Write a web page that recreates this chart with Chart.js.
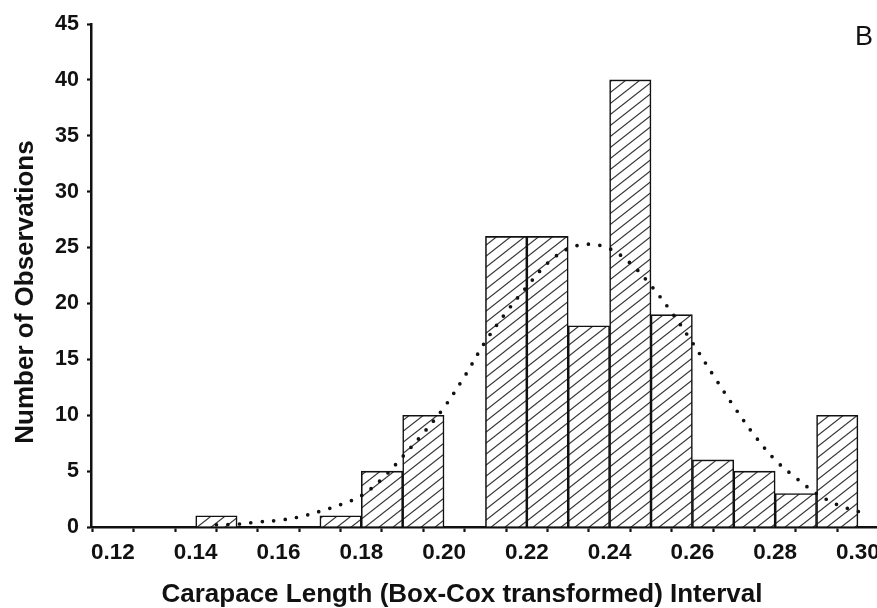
<!DOCTYPE html>
<html>
<head>
<meta charset="utf-8">
<script src="https://cdn.jsdelivr.net/npm/chart.js@4.4.1/dist/chart.umd.min.js"></script>
<style>
  html, body { margin: 0; padding: 0; background: #ffffff; }
  #wrap { width: 877px; height: 608px; position: relative; }
</style>
</head>
<body>
<div id="wrap"><canvas id="c"></canvas></div>
<script>
// ---- data ----
const binCenters = [0.145, 0.155, 0.165, 0.175, 0.185, 0.195, 0.205, 0.215, 0.225, 0.235, 0.245, 0.255, 0.265, 0.275, 0.285, 0.295];
const counts     = [1, 0, 0, 1, 5, 10, 0, 26, 26, 18, 40, 19, 6, 5, 3, 10];

const curveX = [0.145, 0.15, 0.155, 0.16, 0.165, 0.17, 0.175, 0.18, 0.185, 0.19, 0.195, 0.20, 0.205, 0.21, 0.215, 0.22, 0.225, 0.23, 0.235, 0.24, 0.245, 0.25, 0.255, 0.26, 0.265, 0.27, 0.275, 0.28, 0.285, 0.29, 0.295, 0.30, 0.302];
const curveY = [0.2, 0.25, 0.45, 0.6, 0.9, 1.4, 2.0, 2.8, 4.3, 6.3, 8.4, 10.7, 13.5, 16.6, 19.2, 21.5, 23.6, 24.9, 25.3, 24.9, 23.6, 21.6, 19.2, 16.5, 13.6, 10.8, 8.2, 6.0, 4.4, 3.0, 2.0, 1.4, 1.2];

const xTickValues = [0.12, 0.13, 0.14, 0.15, 0.16, 0.17, 0.18, 0.19, 0.20, 0.21, 0.22, 0.23, 0.24, 0.25, 0.26, 0.27, 0.28, 0.29, 0.30];
const xLabelled   = [0.12, 0.14, 0.16, 0.18, 0.20, 0.22, 0.24, 0.26, 0.28, 0.30];

const xTitle = 'Carapace Length (Box-Cox transformed) Interval';
const yTitle = 'Number of Observations';
const panelLabel = 'B';

// ---- hatch pattern ----
function makeHatch() {
  const w = 14, h = 11;
  const cv = document.createElement('canvas');
  cv.width = w; cv.height = h;
  const g = cv.getContext('2d');
  g.fillStyle = '#ffffff';
  g.fillRect(0, 0, w, h);
  g.strokeStyle = '#333333';
  g.lineWidth = 1.15;
  for (const c of [-h, 0, h]) {
    g.beginPath();
    g.moveTo(-2, h + c + 2 * h / w);
    g.lineTo(w + 2, c - 2 * h / w);
    g.stroke();
  }
  return g.createPattern(cv, 'repeat');
}
const hatch = makeHatch();

const FONT = "'Liberation Sans', Arial, Helvetica, sans-serif";

const textPlugin = {
  id: 'texts',
  afterDraw(chart) {
    const ctx = chart.ctx;
    ctx.save();
    ctx.fillStyle = '#111111';
    // x axis title
    ctx.font = 'bold 26px ' + FONT;
    ctx.textAlign = 'center';
    ctx.textBaseline = 'alphabetic';
    ctx.fillText(xTitle, 462, 602);
    // y axis title
    ctx.save();
    ctx.translate(33, 292);
    ctx.rotate(-Math.PI / 2);
    ctx.fillText(yTitle, 0, 0);
    ctx.restore();
    // panel label
    ctx.font = '27px ' + FONT;
    ctx.textAlign = 'left';
    ctx.fillText(panelLabel, 855, 45);
    ctx.restore();
  }
};

new Chart(document.getElementById('c'), {
  type: 'bar',
  data: {
    datasets: [
      {
        type: 'line',
        label: 'Normal fit',
        data: curveX.map((x, i) => ({ x: x, y: curveY[i] })),
        borderColor: '#111111',
        borderWidth: 3.7,
        borderDash: [0, 11.5],
        borderCapStyle: 'round',
        pointRadius: 0,
        tension: 0.35,
        fill: false,
        order: 0
      },
      {
        type: 'bar',
        label: 'Observations',
        data: binCenters.map((x, i) => ({ x: x, y: counts[i] })),
        backgroundColor: hatch,
        borderColor: '#111111',
        borderWidth: 1.6,
        barPercentage: 1,
        categoryPercentage: 1,
        order: 1
      }
    ]
  },
  options: {
    responsive: true,
    maintainAspectRatio: false,
    animation: false,
    layout: { padding: { top: 24, right: 0, bottom: 0, left: 0 } },
    plugins: {
      legend: { display: false },
      tooltip: { enabled: false },
      title: { display: false }
    },
    scales: {
      x: {
        type: 'linear',
        min: 0.1147,
        max: 0.3046,
        offset: false,
        border: { display: true, color: '#111111', width: 2.5 },
        grid: { drawOnChartArea: false, drawTicks: true, tickLength: 5, tickWidth: 2.2, tickColor: '#111111' },
        afterBuildTicks: s => { s.ticks = xTickValues.map(v => ({ value: v })); },
        afterFit: s => { s.height = 81; s.paddingLeft = 0; s.paddingRight = 0; },
        ticks: {
          autoSkip: false,
          maxRotation: 0,
          padding: 7,
          color: '#111111',
          font: { family: FONT, size: 22.5, weight: 'bold' },
          callback: v => {
            const hit = xLabelled.find(t => Math.abs(t - v) < 1e-6);
            return hit !== undefined ? hit.toFixed(2) : '';
          }
        },
        title: { display: false, text: xTitle }
      },
      y: {
        type: 'linear',
        min: 0,
        max: 45,
        border: { display: true, color: '#111111', width: 2.5 },
        grid: { drawOnChartArea: false, drawTicks: true, tickLength: 4, tickWidth: 2.2, tickColor: '#111111' },
        afterFit: s => { s.width = 91; },
        ticks: {
          stepSize: 5,
          padding: 8,
          color: '#111111',
          font: { family: FONT, size: 21.5, weight: 'bold' }
        },
        title: { display: false, text: yTitle }
      }
    }
  },
  plugins: [textPlugin]
});
</script>
</body>
</html>
